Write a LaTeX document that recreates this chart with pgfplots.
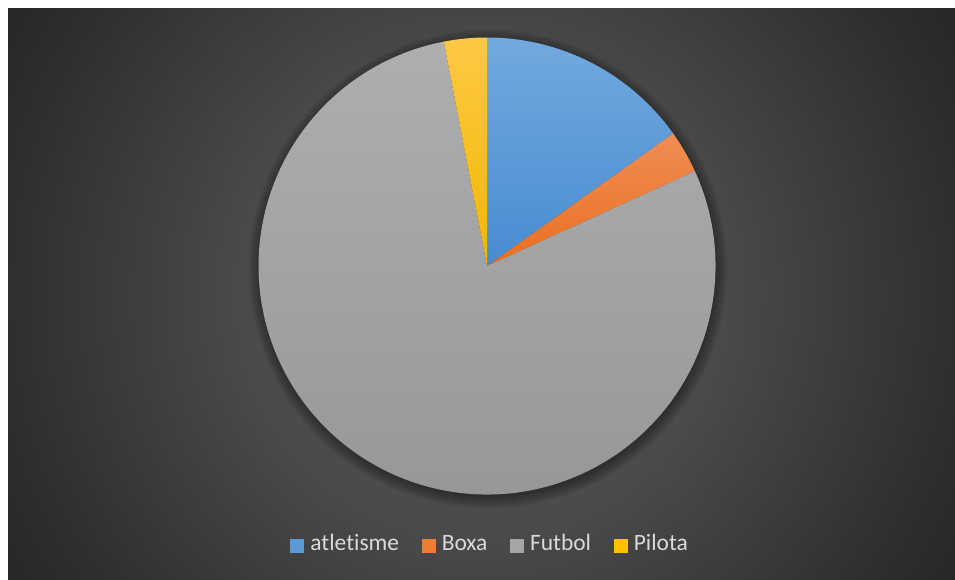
\documentclass[border=0pt]{standalone}
\usepackage{fontspec}
\setmainfont[Ligatures=NoCommon]{Carlito}
\usepackage{pgfplots}
\usepackage{pgfplotstable}
\pgfplotsset{compat=1.18}

% background
\definecolor{bgA}{HTML}{575757}
\definecolor{bgB}{HTML}{4A4A4A}
\definecolor{bgC}{HTML}{2E2E2E}
\definecolor{bgD}{HTML}{262626}
\definecolor{legtext}{HTML}{D9D9D9}
% slice colours, top and bottom of the gradient
\definecolor{pietop0}{HTML}{72A9DF}
\definecolor{piebot0}{HTML}{478CD0}
\definecolor{pietop1}{HTML}{F08E55}
\definecolor{piebot1}{HTML}{EA6E1F}
\definecolor{pietop2}{HTML}{AEAEAE}
\definecolor{piebot2}{HTML}{969696}
\definecolor{pietop3}{HTML}{FFC845}
\definecolor{piebot3}{HTML}{F0B800}
\definecolor{pieleg0}{HTML}{5B9BD5}
\definecolor{pieleg1}{HTML}{ED7D31}
\definecolor{pieleg2}{HTML}{A5A5A5}
\definecolor{pieleg3}{HTML}{FFC000}

\pgfdeclareradialshading{chartbg}{\pgfpoint{0bp}{0bp}}{%
  color(0bp)=(bgA); color(10bp)=(bgB); color(20bp)=(bgC);
  color(23.5bp)=(bgD); color(50bp)=(bgD)}

\pgfplotstableread{
sport value
atletisme 5
Boxa 1
Futbol 26
Pilota 1
}\piedata

% total and slice angles (clockwise from 12 o'clock)
\def\pietotal{0}
\pgfplotsforeachungrouped \i in {0,...,3}{%
  \pgfplotstablegetelem{\i}{value}\of\piedata
  \pgfmathsetmacro\pietotal{\pietotal+\pgfplotsretval}}
\def\pieangle{90}
\pgfplotsforeachungrouped \i in {0,...,3}{%
  \pgfplotstablegetelem{\i}{value}\of\piedata
  \pgfmathsetmacro\pieend{\pieangle-360*\pgfplotsretval/\pietotal}%
  \expandafter\xdef\csname pieS\i\endcsname{\pieangle}%
  \expandafter\xdef\csname pieE\i\endcsname{\pieend}%
  \let\pieangle\pieend}

\begin{document}
\begin{tikzpicture}[x=0.75pt, y=0.75pt]
\useasboundingbox (0,0) rectangle (955,579);
\fill[white] (0,0) rectangle (955,579);
\begin{scope}
  \clip (8,0) rectangle (955,570);
  \shade[shading=chartbg] (481.5,285) circle[radius=600*0.75pt];
\end{scope}
\begin{axis}[
    at={(0,0)}, anchor=origin,
    x=0.75pt, y=0.75pt,
    xmin=0, xmax=955, ymin=0, ymax=579,
    hide axis, clip=false,
    legend columns=-1,
    legend image code/.code={\fill[#1] (0pt,-4.8pt) rectangle (10.5pt,5.7pt);},
    legend style={
        at={(axis cs:490.5,32)}, anchor=center,
        draw=none, fill=none, text=legtext,
        font=\fontsize{17.6}{21}\selectfont,
        nodes={inner sep=2pt, text height=0.7em, text depth=0.15em},
        /tikz/every odd column/.append style={column sep=2.5pt},
        /tikz/every even column/.append style={column sep=15pt},
    },
]
% soft shadow
\pgfplotsinvokeforeach{1,...,12}{
  \fill[black, opacity=0.03] (axis cs:488,310) circle[radius={170.5pt+#1*0.75pt}];
}
% slices
\pgfplotsinvokeforeach{0,...,3}{
  \path[top color=pietop#1, bottom color=piebot#1]
    (axis cs:487,313) -- ++(\csname pieS#1\endcsname:171.375pt)
    arc[start angle=\csname pieS#1\endcsname, end angle=\csname pieE#1\endcsname, radius=171.375pt]
    -- cycle;
}
\addlegendimage{fill=pieleg0, draw=none}
\addlegendentry{atletisme}
\addlegendimage{fill=pieleg1, draw=none}
\addlegendentry{Boxa}
\addlegendimage{fill=pieleg2, draw=none}
\addlegendentry{Futbol}
\addlegendimage{fill=pieleg3, draw=none}
\addlegendentry{Pilota}
\end{axis}
\end{tikzpicture}
\end{document}
